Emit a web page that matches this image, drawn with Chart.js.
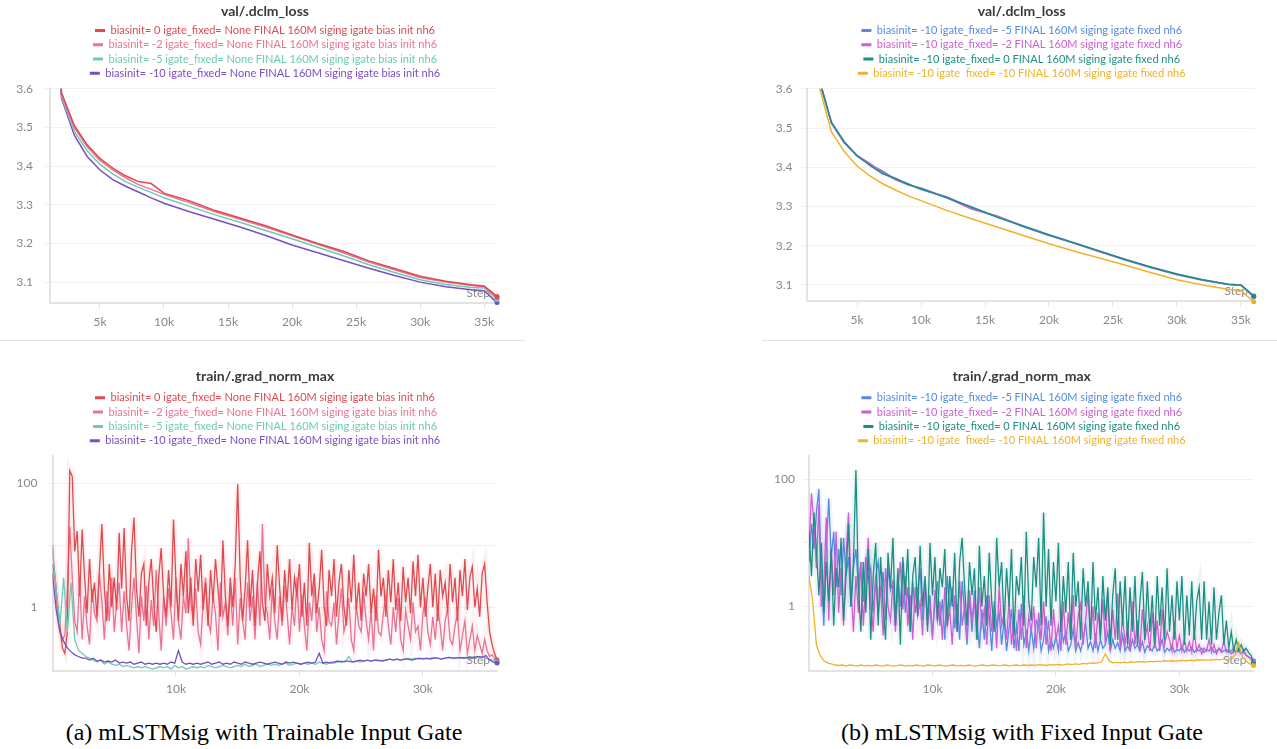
<!DOCTYPE html>
<html><head><meta charset="utf-8">
<script src="https://cdn.jsdelivr.net/npm/chart.js@4.4.1/dist/chart.umd.min.js"></script>
<style>
html,body{margin:0;padding:0;background:#fff;width:1277px;height:749px;overflow:hidden;position:relative;}
canvas{position:absolute;}
.sep{position:absolute;height:1px;background:#e2e2e2;top:340px;}
.cap{position:absolute;top:719px;font-family:'Liberation Serif','Times New Roman',serif;font-size:24px;color:#000;white-space:nowrap;transform:translateX(-50%);}
</style></head><body>
<canvas id="c1" width="530" height="336" style="left:0;top:0"></canvas>
<canvas id="c2" width="511" height="336" style="left:766px;top:0"></canvas>
<canvas id="c3" width="530" height="342" style="left:0;top:360px"></canvas>
<canvas id="c4" width="511" height="342" style="left:766px;top:360px"></canvas>
<div class="sep" style="left:0;width:525px"></div>
<div class="sep" style="left:762px;width:515px"></div>
<div class="cap" style="left:264px">(a) mLSTMsig with Trainable Input Gate</div>
<div class="cap" style="left:1022px">(b) mLSTMsig with Fixed Input Gate</div>
<script>
// ---------- DATA ----------
const lossSteps = [1100,2000,3000,4000,5000,6000,7000,8000,9000,10000,12000,14000,16000,18000,20000,22000,24000,26000,28000,30000,32000,34000,35000,36000];
const lossTrainB0  = [4.10,3.590,3.505,3.455,3.420,3.395,3.375,3.360,3.355,3.330,3.310,3.285,3.265,3.245,3.222,3.200,3.180,3.155,3.135,3.115,3.102,3.093,3.090,3.063];
const lossTrainB2  = [4.05,3.585,3.500,3.450,3.415,3.390,3.370,3.352,3.340,3.327,3.305,3.282,3.262,3.242,3.220,3.198,3.176,3.152,3.132,3.112,3.100,3.091,3.088,3.060];
const lossTrainB5  = [4.00,3.580,3.490,3.440,3.405,3.380,3.360,3.345,3.332,3.318,3.296,3.274,3.254,3.233,3.212,3.190,3.168,3.145,3.125,3.106,3.094,3.086,3.085,3.055];
const lossTrainB10 = [3.95,3.575,3.480,3.425,3.390,3.365,3.348,3.333,3.318,3.304,3.282,3.262,3.242,3.220,3.196,3.176,3.156,3.136,3.117,3.100,3.088,3.080,3.078,3.047];
const lossFixedF5  = [4.10,3.625,3.512,3.463,3.428,3.407,3.390,3.370,3.358,3.343,3.325,3.296,3.274,3.248,3.226,3.206,3.185,3.163,3.144,3.126,3.112,3.101,3.099,3.070];
const lossFixedF2  = [4.10,3.628,3.513,3.462,3.430,3.410,3.386,3.368,3.355,3.347,3.323,3.293,3.275,3.250,3.227,3.206,3.184,3.164,3.145,3.127,3.113,3.102,3.100,3.071];
const lossFixedF0  = [4.10,3.630,3.515,3.465,3.430,3.405,3.383,3.372,3.356,3.345,3.322,3.298,3.272,3.250,3.228,3.207,3.186,3.165,3.145,3.128,3.113,3.102,3.100,3.072];
const lossFixedF10 = [4.00,3.610,3.490,3.440,3.403,3.378,3.358,3.342,3.327,3.315,3.290,3.268,3.247,3.226,3.205,3.186,3.168,3.150,3.131,3.113,3.100,3.089,3.086,3.057];

// coarse steps (every 300) for the quiet runs
const gradSteps = [
0,300,600,900,1200,1500,1800,2100,2400,2700,
3000,3300,3600,3900,4200,4500,4800,5100,5400,5700,
6000,6300,6600,6900,7200,7500,7800,8100,8400,8700,
9000,9300,9600,9900,10200,10500,10800,11100,11400,11700,
12000,12300,12600,12900,13200,13500,13800,14100,14400,14700,
15000,15300,15600,15900,16200,16500,16800,17100,17400,17700,
18000,18300,18600,18900,19200,19500,19800,20100,20400,20700,
21000,21300,21600,21900,22200,22500,22800,23100,23400,23700,
24000,24300,24600,24900,25200,25500,25800,26100,26400,26700,
27000,27300,27600,27900,28200,28500,28800,29100,29400,29700,
30000,30300,30600,30900,31200,31500,31800,32100,32400,32700,
33000,33300,33600,33900,34200,34500,34800,35100,35400,35700,
36000];
// fine steps (every 200) for the noisy runs
const gradStepsFine = [
0,200,400,600,800,1000,1200,1400,1600,1800,
2000,2200,2400,2600,2800,3000,3200,3400,3600,3800,
4000,4200,4400,4600,4800,5000,5200,5400,5600,5800,
6000,6200,6400,6600,6800,7000,7200,7400,7600,7800,
8000,8200,8400,8600,8800,9000,9200,9400,9600,9800,
10000,10200,10400,10600,10800,11000,11200,11400,11600,11800,
12000,12200,12400,12600,12800,13000,13200,13400,13600,13800,
14000,14200,14400,14600,14800,15000,15200,15400,15600,15800,
16000,16200,16400,16600,16800,17000,17200,17400,17600,17800,
18000,18200,18400,18600,18800,19000,19200,19400,19600,19800,
20000,20200,20400,20600,20800,21000,21200,21400,21600,21800,
22000,22200,22400,22600,22800,23000,23200,23400,23600,23800,
24000,24200,24400,24600,24800,25000,25200,25400,25600,25800,
26000,26200,26400,26600,26800,27000,27200,27400,27600,27800,
28000,28200,28400,28600,28800,29000,29200,29400,29600,29800,
30000,30200,30400,30600,30800,31000,31200,31400,31600,31800,
32000,32200,32400,32600,32800,33000,33200,33400,33600,33800,
34000,34200,34400,34600,34800,35000,35200,35400,35600,35800,
36000];

const gradTrainB0 = [
5,3,1.2,0.5,0.22,0.18,0.4,160,130,8,
17,1.5,18,3,0.8,6,1.2,2.5,0.7,4,
22,2,0.6,5,1,3,0.9,16,2,19,
1.5,0.6,8,28,2,0.7,3.5,5,0.5,2.5,
6,1.2,0.4,3,9,1.5,0.7,4,1,26,
2.5,0.6,5,1.5,8,0.8,3,0.5,6,1.8,
7,0.9,2.5,0.5,4,1.2,6,2,0.7,12,
1.5,0.5,3,1,5,97,3,0.6,2,12,
1,4,0.5,2.5,8,1.2,0.6,5,1.5,3,
0.8,10,2,0.6,4,1.2,6,0.9,3,1.5,
5,0.7,2.5,0.5,11,1.5,3.5,0.8,2,8.5,
1,0.5,4,1.5,6,0.7,2.5,5,1,0.5,
4,1.2,7,0.9,2.5,0.6,3.5,1.5,5,0.8,
2,0.6,8.5,1.5,3,0.7,4,1.2,6,0.9,
2.5,0.6,4.5,1.2,3,0.8,5.5,1.5,7,1,
3,0.7,2,5,1,3.5,0.6,4,1.5,2.5,
0.8,5,1.2,3,0.6,4,1.5,6,0.9,3,
4.5,1,2,0.7,3.5,5,1.2,0.4,0.25,0.18,
0.14];
const gradTrainB2 = [
10,3,0.8,0.4,0.3,0.35,2,20,3,0.6,
0.4,3,0.3,1.5,0.5,0.25,2,0.8,0.6,3.5,
1.2,0.3,1.8,0.6,3,0.4,1.2,2.5,0.4,1.8,
0.5,0.2,1,3,0.7,0.18,1.5,0.6,2.2,0.3,
1.3,0.5,4,0.8,0.2,1.5,0.5,2,0.8,0.3,
3,0.6,0.3,1.5,0.8,13,1.2,0.6,2,0.4,
0.25,1.2,3,0.6,0.4,1.5,0.8,0.2,2.5,0.7,
1.2,0.35,2,0.5,3,0.25,1.4,0.6,0.3,2.5,
0.6,1.5,0.3,2.5,0.5,22,1.2,0.8,0.3,2,
0.6,0.3,1.5,0.5,2.2,0.8,0.25,1,0.5,3,
0.4,1.6,0.5,0.2,1.2,0.6,2.5,0.4,1,0.3,
0.2,1.8,0.6,0.5,1.2,0.25,0.8,2,0.4,0.6,
1.4,0.3,0.2,1.1,0.5,0.4,1.8,0.6,0.3,0.9,
0.2,1.5,0.4,0.35,0.8,1.6,0.5,0.25,1,0.4,
1.4,0.3,0.2,0.9,0.5,0.3,1.2,0.4,0.5,0.2,
0.8,1.3,0.4,0.25,0.7,0.3,1,0.5,0.2,0.6,
0.9,0.3,0.25,0.5,0.8,0.2,0.35,0.6,0.18,0.3,
0.5,0.2,0.35,0.25,0.18,0.3,0.2,0.16,0.17,0.15,
0.13];
const gradTrainB5 = [
8,2,0.5,3,0.4,2.5,0.3,0.2,0.18,0.16,
0.15,0.14,0.13,0.14,0.12,0.13,0.12,0.115,0.12,0.11,
0.115,0.11,0.105,0.11,0.105,0.11,0.105,0.1,0.105,0.11,
0.105,0.11,0.1,0.115,0.105,0.11,0.1,0.105,0.11,0.105,
0.11,0.105,0.115,0.11,0.105,0.11,0.115,0.11,0.105,0.11,
0.115,0.11,0.12,0.11,0.115,0.12,0.11,0.115,0.12,0.115,
0.12,0.115,0.12,0.125,0.115,0.12,0.125,0.12,0.125,0.12,
0.125,0.12,0.13,0.125,0.12,0.13,0.125,0.13,0.135,0.13,
0.16,0.13,0.135,0.13,0.135,0.14,0.135,0.14,0.135,0.14,
0.14,0.145,0.14,0.145,0.14,0.145,0.15,0.145,0.15,0.145,
0.15,0.145,0.15,0.155,0.15,0.145,0.15,0.155,0.15,0.155,
0.15,0.155,0.15,0.155,0.16,0.155,0.16,0.15,0.145,0.14,
0.13];
const gradTrainB10 = [
3.5,0.9,0.4,0.28,0.22,0.19,0.17,0.16,0.15,0.15,
0.14,0.15,0.135,0.14,0.13,0.135,0.13,0.14,0.125,0.13,
0.125,0.13,0.12,0.125,0.13,0.12,0.125,0.12,0.125,0.12,
0.125,0.12,0.13,0.125,0.2,0.13,0.12,0.125,0.12,0.125,
0.12,0.125,0.13,0.12,0.125,0.13,0.12,0.125,0.12,0.13,
0.125,0.12,0.13,0.125,0.12,0.125,0.13,0.125,0.12,0.125,
0.13,0.125,0.12,0.13,0.125,0.13,0.125,0.12,0.125,0.13,
0.125,0.13,0.18,0.125,0.13,0.125,0.13,0.135,0.13,0.135,
0.135,0.13,0.135,0.14,0.135,0.14,0.135,0.14,0.14,0.135,
0.14,0.145,0.14,0.145,0.14,0.145,0.145,0.14,0.145,0.15,
0.145,0.15,0.145,0.15,0.15,0.145,0.15,0.155,0.15,0.15,
0.155,0.15,0.155,0.15,0.155,0.16,0.155,0.165,0.14,0.13,
0.125];
const gradFixedF5 = [
5,20,8,30,70,3,0.5,8,50,6,
15,2,8,1.5,12,3,6,1,4,8,
2,5,1.2,6,2.5,4,0.8,3,5,1.5,
3.5,0.6,4,1.8,2.5,0.5,3,1,5,0.8,
2,0.4,2.5,0.8,1.8,4,0.6,2.2,0.7,1.5,
0.35,1.2,2.5,0.5,1.3,0.3,3,0.9,2,0.45,
1.1,0.3,2.5,0.8,0.25,1.5,0.4,1.8,0.6,0.22,
0.9,0.3,1.5,0.7,0.2,1.2,0.5,0.8,0.25,0.6,
0.2,0.45,0.9,0.22,0.5,0.2,1.1,0.25,0.4,0.2,
0.45,0.22,0.6,0.5,0.2,0.3,0.7,0.2,0.3,0.22,
0.35,0.2,0.5,0.28,0.4,0.2,0.25,0.45,0.2,0.27,
0.2,0.3,0.55,0.22,0.28,0.2,0.35,0.2,0.3,0.22,
0.25,0.4,0.2,0.3,0.22,0.27,0.2,0.35,0.2,0.24,
0.2,0.3,0.22,0.25,0.2,0.28,0.19,0.24,0.22,0.2,
0.26,0.2,0.22,0.3,0.19,0.22,0.2,0.25,0.19,0.21,
0.2,0.24,0.19,0.22,0.2,0.23,0.19,0.21,0.2,0.22,
0.19,0.21,0.2,0.23,0.19,0.2,0.22,0.19,0.2,0.21,
0.19,0.2,0.22,0.19,0.2,0.18,0.21,0.17,0.16,0.15,
0.13];
const gradFixedF2 = [
8,60,20,4,40,1,2,25,0.6,8,
1.5,15,0.8,4,0.5,6,30,2,0.4,3,
0.8,5,0.5,2.5,12,1.2,0.4,3,0.7,2,
0.35,4,1,0.6,2.5,0.4,1.8,5,0.9,3,
0.5,1.5,0.3,2,0.7,1.2,0.35,2.5,0.5,1,
0.3,1.8,0.6,1.2,0.3,2,0.5,0.9,0.25,1.5,
0.4,2.5,0.5,1,0.3,1.8,0.6,1.2,0.3,2,
0.5,0.9,0.25,1.5,0.4,1,0.22,2,0.5,0.8,
0.3,1.2,0.25,0.6,0.2,0.9,0.3,1.5,0.22,0.7,
0.4,1,0.22,0.8,0.3,1.2,0.25,0.6,0.2,0.9,
0.3,0.5,0.2,1.2,0.25,0.8,0.3,1.5,0.22,0.7,
1.1,0.25,0.6,1.6,0.3,1,0.22,0.8,0.35,1.3,
0.25,1.7,0.2,0.9,0.3,1.6,0.22,0.7,0.25,0.5,
0.2,1.2,0.25,0.6,0.2,0.9,0.3,0.5,0.2,0.8,
0.22,0.6,0.2,0.9,0.25,0.4,0.3,0.2,0.5,0.22,
0.35,0.2,0.3,0.2,0.28,0.19,0.4,0.2,0.25,0.18,
0.22,0.2,0.3,0.19,0.25,0.18,0.22,0.2,0.28,0.19,
0.21,0.18,0.2,0.19,0.22,0.18,0.19,0.17,0.16,0.15,
0.14];
const gradFixedF0 = [
15,3,30,8,1.5,10,0.8,5,1.2,8,
0.5,4,2,12,0.6,3,20,1,5,140,
2,0.4,5,0.8,8,0.3,3,10,0.5,6,
1,0.3,7,2,12,0.5,4,0.25,6,1.5,
8,0.4,3,6,0.7,9,1,3,0.4,10,
1.5,6,0.6,4,2,8,0.5,3,1,7,
0.4,5,12,2,0.5,5,1.5,4,0.3,9,
1,3,0.5,7,1.2,0.4,12,2,5,0.5,
4,1,8,0.35,3,1.5,6,0.5,15,1.2,
0.6,6,2,12,0.5,30,1,8,0.5,5,
1.2,10,0.4,3,0.8,5,0.3,7,1,2.5,
0.3,4,1,2.5,0.3,5,0.6,2,0.3,3,
0.6,2,0.25,1.5,4,0.3,2.5,0.5,3,0.25,
2,0.4,3,0.25,1.2,3.5,0.3,2.5,0.4,1.5,
0.25,3,0.5,2,0.3,4,0.4,1.5,0.3,2.5,
0.6,3,0.25,1.5,0.35,2.5,0.3,1.2,2,0.3,
2.5,0.3,1.2,0.25,2,0.3,0.8,1.5,0.25,0.6,
0.22,0.4,0.2,0.3,0.2,0.25,0.2,0.22,0.19,0.17,
0.125];
const gradFixedF10 = [
3,1.2,0.25,0.17,0.14,0.13,0.125,0.12,0.118,0.12,
0.115,0.12,0.118,0.115,0.12,0.116,0.118,0.115,0.12,0.117,
0.115,0.12,0.117,0.115,0.118,0.12,0.115,0.118,0.116,0.12,
0.117,0.115,0.12,0.118,0.115,0.12,0.117,0.115,0.118,0.12,
0.116,0.118,0.115,0.12,0.117,0.115,0.118,0.12,0.116,0.118,
0.12,0.117,0.118,0.12,0.116,0.118,0.12,0.117,0.12,0.118,
0.12,0.118,0.122,0.12,0.118,0.122,0.12,0.123,0.12,0.122,
0.125,0.122,0.125,0.123,0.127,0.125,0.13,0.128,0.13,0.135,
0.18,0.14,0.13,0.132,0.13,0.133,0.13,0.135,0.132,0.135,
0.135,0.133,0.137,0.135,0.138,0.136,0.14,0.138,0.14,0.138,
0.14,0.142,0.14,0.143,0.14,0.145,0.143,0.145,0.143,0.145,
0.147,0.145,0.148,0.146,0.15,0.17,0.27,0.16,0.14,0.125,
0.118];

const lossTicksY = [3.1,3.2,3.3,3.4,3.5,3.6];
const lossTicksX = [5000,10000,15000,20000,25000,30000,35000];
const gradTicksY = [1,10,100];
const gradLabelsY = [1,100];
const gradTicksX = [10000,20000,30000];

const labelsTrain = [
 'biasinit= 0 igate_fixed= None FINAL 160M siging igate bias init nh6',
 'biasinit= -2 igate_fixed= None FINAL 160M siging igate bias init nh6',
 'biasinit= -5 igate_fixed= None FINAL 160M siging igate bias init nh6',
 'biasinit= -10 igate_fixed= None FINAL 160M siging igate bias init nh6'];
const labelsFixed = [
 'biasinit= -10 igate_fixed= -5 FINAL 160M siging igate fixed nh6',
 'biasinit= -10 igate_fixed= -2 FINAL 160M siging igate fixed nh6',
 'biasinit= -10 igate_fixed= 0 FINAL 160M siging igate fixed nh6',
 'biasinit= -10 igate  fixed= -10 FINAL 160M siging igate fixed nh6'];

// ---------- STYLE ----------
const FONT = 'Lato, "Open Sans", sans-serif';
const C = {red:'rgb(223,74,80)', pink:'rgb(232,116,148)', mint:'rgb(110,203,178)', purple:'rgb(121,78,194)',
           blue:'rgb(86,138,224)', magenta:'rgb(205,94,210)', teal:'rgb(30,142,132)', yellow:'rgb(240,178,40)'};
const haze = c => c.replace('rgb(', 'rgba(').replace(')', ',0.09)');

const stepLabel = {
  id:'stepLabel',
  beforeDatasetsDraw(chart){
    const {ctx, chartArea:a} = chart;
    ctx.save(); ctx.font = '12px ' + FONT; ctx.fillStyle = '#8a8a8a';
    ctx.textAlign = 'right'; ctx.textBaseline = 'middle';
    ctx.fillText('Step', a.right - 7, a.bottom - 10); ctx.restore();
  }
};

function makeChart(id, o) {
  const datasets = [];
  o.series.forEach(s => {
    const n = s.ys.length;
    const data = s.xs.map((x,i) => ({x, y: s.ys[i]}));
    datasets.push({
      label: s.label, data,
      borderColor: s.color, backgroundColor: s.color, borderWidth: o.lw,
      pointRadius: ctx => ctx.dataIndex === n-1 ? 2.5 : 0, pointBorderWidth: 0,
      pointHoverRadius: 0, order: s.order, tension: 0,
      clip: {left: 0, top: 0, right: 6, bottom: 6}
    });
  });
  // faint wide underlay (W&B raw-value envelope look) for the noisy runs
  o.series.filter(s => s.haze).forEach(s => {
    datasets.push({
      label: '', isHaze: true, data: s.xs.map((x,i) => ({x, y: s.ys[i]})),
      borderColor: haze(s.color), borderWidth: 6, pointRadius: 0, pointHoverRadius: 0,
      order: 10, tension: 0, clip: {left: 0, top: 0, right: 0, bottom: 0}
    });
  });
  return new Chart(document.getElementById(id), {
    type: 'line',
    data: {datasets},
    options: {
      responsive: false, animation: false, events: [],
      layout: {padding: o.pad},
      plugins: {
        title: {display: true, text: o.title, color: '#3a3a3a',
          font: {family: FONT, size: 14, weight: 'bold'}, padding: o.tpad},
        legend: {display: true, position: 'top',
          labels: {boxWidth: 10, boxHeight: 3, padding: 3.3, font: {family: FONT, size: 11},
            generateLabels: ch => ch.data.datasets.filter(d => !d.isHaze).map((d,i) => ({
              text: d.label, fillStyle: d.borderColor, strokeStyle: d.borderColor,
              lineWidth: 0, fontColor: d.borderColor, datasetIndex: i, hidden: false}))}},
        tooltip: {enabled: false}
      },
      scales: {
        x: {type: 'linear', min: o.x.min, max: o.x.max,
          afterBuildTicks: s => { s.ticks = o.x.ticks.map(v => ({value: v})); },
          ticks: {callback: v => (v/1000) + 'k', color: '#888', font: {family: FONT, size: 12},
            padding: 5.5, maxRotation: 0, autoSkip: false},
          grid: {drawOnChartArea: false, drawTicks: true, tickLength: 6, color: '#e3e3e3'},
          border: {color: '#e3e3e3', width: 2}},
        y: {type: o.y.type, min: o.y.min, max: o.y.max,
          afterBuildTicks: s => { s.ticks = o.y.ticks.map(v => ({value: v})); },
          afterFit: s => { s.width = o.yWidth; s._computeLabelArea = () => null; },
          ticks: {callback: o.y.fmt, color: '#888', font: {family: FONT, size: 12}, padding: o.y.pad, autoSkip: false},
          grid: {color: '#f1f1f1', drawTicks: true, tickLength: 6},
          border: {color: '#e3e3e3', width: 2}}
      }
    },
    plugins: [stepLabel]
  });
}

const fmtLoss = v => Number(v).toFixed(1);
const fmtGrad = v => gradLabelsY.includes(v) ? String(v) : '';

makeChart('c1', {
  title: 'val/.dclm_loss', lw: 1.5,
  pad: {left: 33, right: 33, top: 1, bottom: 1.6}, tpad: {top: 1.6, bottom: 2.2}, yWidth: 17,
  x: {min: 1100, max: 36000, ticks: lossTicksX},
  y: {type: 'linear', min: 3.046, max: 3.6, ticks: lossTicksY, fmt: fmtLoss, pad: 11},
  series: [
    {label: labelsTrain[0], color: C.red, order: 0, xs: lossSteps, ys: lossTrainB0},
    {label: labelsTrain[1], color: C.pink, order: 1, xs: lossSteps, ys: lossTrainB2},
    {label: labelsTrain[2], color: C.mint, order: 2, xs: lossSteps, ys: lossTrainB5},
    {label: labelsTrain[3], color: C.purple, order: 3, xs: lossSteps, ys: lossTrainB10}]
});
makeChart('c2', {
  title: 'val/.dclm_loss', lw: 1.5,
  pad: {left: 22.4, right: 22, top: 1, bottom: 3.6}, tpad: {top: 1.6, bottom: 2.2}, yWidth: 18.1,
  x: {min: 1050, max: 36100, ticks: lossTicksX},
  y: {type: 'linear', min: 3.059, max: 3.6, ticks: lossTicksY, fmt: fmtLoss, pad: 8},
  series: [
    {label: labelsFixed[0], color: C.blue, order: 2, xs: lossSteps, ys: lossFixedF5},
    {label: labelsFixed[1], color: C.magenta, order: 1, xs: lossSteps, ys: lossFixedF2},
    {label: labelsFixed[2], color: C.teal, order: 0, xs: lossSteps, ys: lossFixedF0},
    {label: labelsFixed[3], color: C.yellow, order: 3, xs: lossSteps, ys: lossFixedF10}]
});
makeChart('c3', {
  title: 'train/.grad_norm_max', lw: 1.3,
  pad: {left: 33, right: 33, top: 0, bottom: 0}, tpad: {top: 8.3, bottom: 3.9}, yWidth: 19.5,
  x: {min: 0, max: 36000, ticks: gradTicksX},
  y: {type: 'logarithmic', min: 0.0946, max: 275, ticks: gradTicksY, fmt: fmtGrad, pad: 9},
  series: [
    {label: labelsTrain[0], color: C.red, order: 2, xs: gradStepsFine, ys: gradTrainB0, haze: true},
    {label: labelsTrain[1], color: C.pink, order: 3, xs: gradStepsFine, ys: gradTrainB2, haze: true},
    {label: labelsTrain[2], color: C.mint, order: 1, xs: gradSteps, ys: gradTrainB5},
    {label: labelsTrain[3], color: C.purple, order: 0, xs: gradSteps, ys: gradTrainB10}]
});
makeChart('c4', {
  title: 'train/.grad_norm_max', lw: 1.3,
  pad: {left: 23.9, right: 23.5, top: 0, bottom: 0}, tpad: {top: 8.3, bottom: 3.9}, yWidth: 19.1,
  x: {min: 0, max: 36000, ticks: gradTicksX},
  y: {type: 'logarithmic', min: 0.098, max: 231, ticks: gradTicksY, fmt: fmtGrad, pad: 8},
  series: [
    {label: labelsFixed[0], color: C.blue, order: 3, xs: gradStepsFine, ys: gradFixedF5, haze: true},
    {label: labelsFixed[1], color: C.magenta, order: 2, xs: gradStepsFine, ys: gradFixedF2, haze: true},
    {label: labelsFixed[2], color: C.teal, order: 1, xs: gradStepsFine, ys: gradFixedF0, haze: true},
    {label: labelsFixed[3], color: C.yellow, order: 0, xs: gradSteps, ys: gradFixedF10}]
});
</script>
</body></html>
